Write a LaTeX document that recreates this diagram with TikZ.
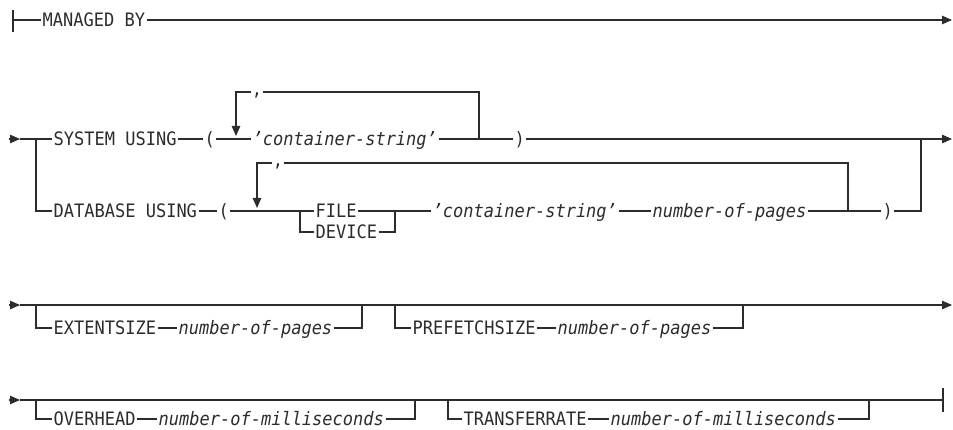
\documentclass[tikz,border=0pt]{standalone}
\usepackage{fontspec}
\setmonofont[FakeStretch=0.92]{DejaVu Sans Mono}
\usetikzlibrary{arrows.meta}
\definecolor{ink}{HTML}{2C2C2C}
\begin{document}
\begin{tikzpicture}[x=1pt,y=-1pt,color=ink,line width=1.1pt,line join=miter,>={Triangle[length=10pt,width=8.5pt]},
	every node/.style={font=\fontsize{18.5}{21}\selectfont\ttfamily,inner sep=1pt,text height=13.5pt,text depth=0pt},
	kw/.style={anchor=west},
	var/.style={anchor=west,font=\fontsize{18.5}{21}\selectfont\ttfamily\itshape},
	comma/.style={inner sep=0pt,text height=8pt,text depth=0pt}]
	\useasboundingbox (0,0) rectangle (953,430);
	\path
	(13,20) coordinate (s1) (13,10) coordinate (s1t) (13,32) coordinate (s1b) (952,20) coordinate (e1)
	(9,139) coordinate (st2) (36,139) coordinate (b2) (921,139) coordinate (j2) (952,139) coordinate (e2)
	(236,136) coordinate (tip1) (479,139) coordinate (rc1)
	(300,211) coordinate (fs) (395,211) coordinate (fj) (257,208) coordinate (tip2) (848,211) coordinate (rc2)
	(9,305) coordinate (st3) (952,305) coordinate (e3)
	(36,305) coordinate (b3a) (362,305) coordinate (c3a) (395,305) coordinate (b3b) (743,305) coordinate (c3b)
	(9,400) coordinate (st4) (943,400) coordinate (e4) (943,388) coordinate (e4t) (943,412) coordinate (e4b)
	(36,400) coordinate (b4a) (415,400) coordinate (c4a) (448,400) coordinate (b4b) (869,400) coordinate (c4b);
	\foreach \r in {2,3,4}{
		\draw[->] (st\r) -- ++(11,0) coordinate (in\r);
	}
	% MANAGED BY
	\node[kw] (mb) at (41,20) {MANAGED BY};
	\draw (s1t) -- (s1b);
	\draw (s1) -- (mb.west);
	\draw[->] (mb.east) -- (e1);
	% SYSTEM USING
	\node[kw] (sys) at (52,139) {SYSTEM USING};
	\node[kw] (lp1) at (203,139) {(};
	\node[var] (cs1) at (251,139) {’container-string’\ };
	\node[kw] (rp1) at (513,139) {)};
	\node[comma] (cm1) at (257,92) {,};
	\draw (in2) -- (sys.west) (sys.east) -- (lp1.west) (lp1.east) -- (cs1.west) (cs1.east) -- (rp1.west);
	\draw[->] (rp1.east) -- (e2);
	\draw[->] (cm1.west) -| (tip1);
	\draw (cm1.east) -| (rc1);
	% DATABASE USING
	\node[kw] (db) at (52,211) {DATABASE USING};
	\node[kw] (lp2) at (217,211) {(};
	\node[kw] (file) at (314,211) {FILE};
	\node[kw] (dev) at (314,232) {DEVICE};
	\node[var] (cs2) at (431,211) {’container-string’\ };
	\node[var] (np1) at (651,211) {number-of-pages};
	\node[kw] (rp2) at (881,211) {)};
	\node[comma] (cm2) at (278,163) {,};
	\draw (b2) |- (db.west);
	\draw (db.east) -- (lp2.west) (lp2.east) -- (file.west);
	\draw (fs) |- (dev.west);
	\draw (dev.east) -| (fj);
	\draw (file.east) -- (cs2.west) (cs2.east) -- (np1.west) (np1.east) -- (rp2.west);
	\draw (rp2.east) -| (j2);
	\draw[->] (cm2.west) -| (tip2);
	\draw (cm2.east) -| (rc2);
	% EXTENTSIZE / PREFETCHSIZE
	\node[kw] (ext) at (52,328) {EXTENTSIZE};
	\node[var] (np2) at (177,328) {number-of-pages};
	\node[kw] (pre) at (411,328) {PREFETCHSIZE};
	\node[var] (np3) at (556,328) {number-of-pages};
	\draw[->] (in3) -- (e3);
	\draw (b3a) |- (ext.west) (ext.east) -- (np2.west) (np2.east) -| (c3a);
	\draw (b3b) |- (pre.west) (pre.east) -- (np3.west) (np3.east) -| (c3b);
	% OVERHEAD / TRANSFERRATE
	\node[kw] (ovh) at (52,419) {OVERHEAD};
	\node[var] (ms1) at (157,419) {number-of-milliseconds};
	\node[kw] (tr) at (462,419) {TRANSFERRATE};
	\node[var] (ms2) at (609,419) {number-of-milliseconds};
	\draw (in4) -- (e4);
	\draw (e4t) -- (e4b);
	\draw (b4a) |- (ovh.west) (ovh.east) -- (ms1.west) (ms1.east) -| (c4a);
	\draw (b4b) |- (tr.west) (tr.east) -- (ms2.west) (ms2.east) -| (c4b);
\end{tikzpicture}
\end{document}
